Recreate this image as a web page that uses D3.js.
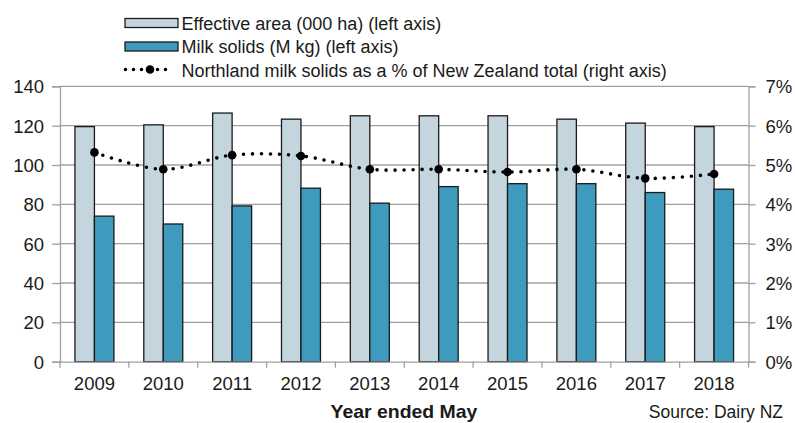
<!DOCTYPE html>
<html>
<head>
<meta charset="utf-8">
<script src="https://cdn.jsdelivr.net/npm/d3@7"></script>
<style>
  html, body { margin: 0; padding: 0; background: #fff; }
  svg { display: block; font-family: "Liberation Sans", Arial, sans-serif; }
</style>
</head>
<body>
<svg id="chart" width="795" height="423"></svg>
<script>
const years = ["2009","2010","2011","2012","2013","2014","2015","2016","2017","2018"];
const effectiveArea = [119.5, 120.4, 126.4, 123.3, 125.0, 125.0, 125.0, 123.3, 121.3, 119.5];
const milkSolids = [74.0, 70.0, 79.2, 88.2, 80.6, 89.0, 90.5, 90.5, 86.0, 87.7];
const northlandShare = [0.0532, 0.0489, 0.0525, 0.0523, 0.0489, 0.0489, 0.0482, 0.0489, 0.0466, 0.0477];
const leftTicks = [0, 20, 40, 60, 80, 100, 120, 140];
const rightTicks = [0, 0.01, 0.02, 0.03, 0.04, 0.05, 0.06, 0.07];
const legendLabels = [
  "Effective area (000 ha) (left axis)",
  "Milk solids (M kg) (left axis)",
  "Northland milk solids as a % of New Zealand total (right axis)"
];

const colLight = "#C5D5DE", colDark = "#3F9BBD", colGrid = "#A0A0A0", colText = "#1a1a1a";

const svg = d3.select("#chart");
const L = 60, R = 748.5, T = 86.3, B = 361.7;

const x = d3.scaleBand().domain(years).range([L, R]).paddingInner(0).paddingOuter(0);
const y = d3.scaleLinear().domain([0, 140]).range([B, T]);
const y2 = d3.scaleLinear().domain([0, 0.07]).range([B, T]);
const bw = x.bandwidth() * 0.283;
const cx = d => x(d) + x.bandwidth() / 2;

// gridlines
svg.append("g").selectAll("line").data(leftTicks.filter(t => t > 0)).join("line")
  .attr("x1", L).attr("x2", R).attr("y1", d => y(d)).attr("y2", d => y(d))
  .attr("stroke", colGrid).attr("stroke-width", 1.3);

// left axis
const ga = svg.append("g").attr("transform", `translate(${L},0)`)
  .call(d3.axisLeft(y).tickValues(leftTicks).tickSize(8).tickPadding(8));
ga.select(".domain").attr("stroke", colGrid).attr("stroke-width", 1.3);
ga.selectAll(".tick line").attr("stroke", colGrid).attr("stroke-width", 1.3);
ga.selectAll("text").attr("font-size", 18.5).attr("fill", colText).attr("dy", "0.35em");

// right axis
const gr = svg.append("g").attr("transform", `translate(${R},0)`)
  .call(d3.axisRight(y2).tickValues(rightTicks).tickFormat(d3.format(".0%")).tickSize(7).tickPadding(10));
gr.select(".domain").attr("stroke", colGrid).attr("stroke-width", 1.3);
gr.selectAll(".tick line").attr("stroke", colGrid).attr("stroke-width", 1.3);
gr.selectAll("text").attr("font-size", 18.5).attr("fill", colText).attr("dy", "0.35em");

// bars
svg.append("g").selectAll("rect").data(years).join("rect")
  .attr("x", d => cx(d) - bw).attr("width", bw)
  .attr("y", (d, i) => y(effectiveArea[i])).attr("height", (d, i) => B - y(effectiveArea[i]))
  .attr("fill", colLight).attr("stroke", "#1a1a1a").attr("stroke-width", 1.3);
svg.append("g").selectAll("rect").data(years).join("rect")
  .attr("x", d => cx(d)).attr("width", bw)
  .attr("y", (d, i) => y(milkSolids[i])).attr("height", (d, i) => B - y(milkSolids[i]))
  .attr("fill", colDark).attr("stroke", "#1a1a1a").attr("stroke-width", 1.3);

// x axis
const gx = svg.append("g").attr("transform", `translate(0,${B})`)
  .call(d3.axisBottom(x).tickSize(0).tickPadding(15));
gx.select(".domain").attr("stroke", colGrid).attr("stroke-width", 1.3);
gx.selectAll("text").attr("font-size", 18.5).attr("fill", colText);
svg.append("g").selectAll("line").data(years.concat(["end"])).join("line")
  .attr("x1", d => d === "end" ? R : x(d)).attr("x2", d => d === "end" ? R : x(d))
  .attr("y1", B).attr("y2", B + 6).attr("stroke", colGrid).attr("stroke-width", 1.3);

// line
const line = d3.line().x((d, i) => cx(years[i])).y(d => y2(d)).curve(d3.curveCatmullRom.alpha(0.5));
svg.append("path").datum(northlandShare).attr("d", line)
  .attr("fill", "none").attr("stroke", "#000").attr("stroke-width", 3.6)
  .attr("stroke-linecap", "round").attr("stroke-dasharray", "0 9");
svg.append("g").selectAll("circle").data(northlandShare).join("circle")
  .attr("cx", (d, i) => cx(years[i])).attr("cy", d => y2(d)).attr("r", 4.3).attr("fill", "#000");

// legend
const lg = svg.append("g");
const lx = 125, lw = 53, tx = 181.5;
const rowsBase = [30, 53.3, 76.7];
lg.append("rect").attr("x", lx).attr("y", 18.5).attr("width", lw).attr("height", 9)
  .attr("fill", colLight).attr("stroke", "#1a1a1a").attr("stroke-width", 1.3);
lg.append("rect").attr("x", lx).attr("y", 42).attr("width", lw).attr("height", 9)
  .attr("fill", colDark).attr("stroke", "#1a1a1a").attr("stroke-width", 1.3);
lg.append("line").attr("x1", 125.5).attr("x2", 173).attr("y1", 69.5).attr("y2", 69.5)
  .attr("stroke", "#000").attr("stroke-width", 3.6).attr("stroke-linecap", "round").attr("stroke-dasharray", "0 8");
lg.append("circle").attr("cx", 150).attr("cy", 69.5).attr("r", 4.3).attr("fill", "#000");
lg.selectAll("text").data(legendLabels).join("text")
  .attr("x", tx).attr("y", (d, i) => rowsBase[i])
  .attr("font-size", 18).attr("fill", colText).text(d => d);

// titles
svg.append("text").attr("x", 404).attr("y", 418).attr("text-anchor", "middle")
  .attr("font-size", 18).attr("font-weight", "bold").attr("fill", colText)
  .attr("transform", "translate(404,0) scale(1.08,1) translate(-404,0)")
  .text("Year ended May");
svg.append("text").attr("x", 783).attr("y", 417.5).attr("text-anchor", "end")
  .attr("font-size", 17.5).attr("fill", colText).text("Source: Dairy NZ");
</script>
</body>
</html>
